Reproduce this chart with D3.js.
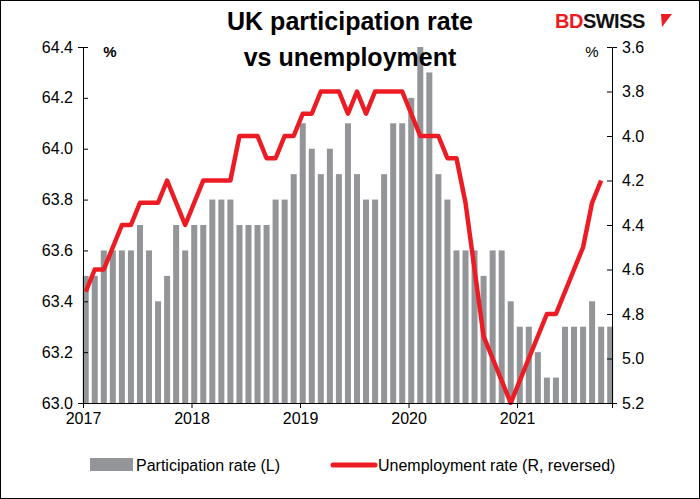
<!DOCTYPE html>
<html>
<head>
<meta charset="utf-8">
<script src="https://cdn.jsdelivr.net/npm/d3@7"></script>
<style>
  body { margin: 0; background: #fff; }
  text { font-family: Arial, "Liberation Sans", sans-serif; }
</style>
</head>
<body>
<svg id="chart" width="700" height="499"></svg>
<script>
// monthly, Jan 2017 - Nov 2021
var participation = [
  63.5, 63.5, 63.6, 63.6, 63.6, 63.6, 63.7, 63.6, 63.4, 63.5, 63.7, 63.6,
  63.7, 63.7, 63.8, 63.8, 63.8, 63.7, 63.7, 63.7, 63.7, 63.8, 63.8, 63.9,
  64.1, 64.0, 63.9, 64.0, 63.9, 64.1, 63.9, 63.8, 63.8, 63.9, 64.1, 64.1,
  64.2, 64.4, 64.3, 63.9, 63.8, 63.6, 63.6, 63.6, 63.5, 63.6, 63.6, 63.4,
  63.3, 63.3, 63.2, 63.1, 63.1, 63.3, 63.3, 63.3, 63.4, 63.3, 63.3
];
var unemployment = [
  4.7, 4.6, 4.6, 4.5, 4.4, 4.4, 4.3, 4.3, 4.3, 4.2, 4.3, 4.4,
  4.3, 4.2, 4.2, 4.2, 4.2, 4.0, 4.0, 4.0, 4.1, 4.1, 4.0, 4.0,
  3.9, 3.9, 3.8, 3.8, 3.8, 3.9, 3.8, 3.9, 3.8, 3.8, 3.8, 3.8,
  3.9, 4.0, 4.0, 4.0, 4.1, 4.1, 4.3, 4.6, 4.9, 5.0, 5.1, 5.2,
  5.1, 5.0, 4.9, 4.8, 4.8, 4.7, 4.6, 4.5, 4.3, 4.2
];
var yearLabels = ["2017", "2018", "2019", "2020", "2021"];
var leftTicks = [63.0, 63.2, 63.4, 63.6, 63.8, 64.0, 64.2, 64.4];
var rightTicks = [3.6, 3.8, 4.0, 4.2, 4.4, 4.6, 4.8, 5.0, 5.2];

var svg = d3.select("#chart");
var pLeft = 83, pRight = 612, pTop = 47, pBottom = 403;

var x = d3.scaleLinear().domain([0, 58.5]).range([pLeft, pRight]);
var yL = d3.scaleLinear().domain([63.0, 64.4]).range([pBottom, pTop]);
var yR = d3.scaleLinear().domain([5.2, 3.6]).range([pBottom, pTop]);

svg.append("rect").attr("x", 0.5).attr("y", 0.5).attr("width", 699).attr("height", 498)
  .attr("fill", "none").attr("stroke", "#000");

// bars
svg.selectAll(".bar").data(participation).enter().append("rect")
  .attr("class", "bar")
  .attr("x", function(d, i) { return x(i + 0.3) - 3; })
  .attr("width", 6)
  .attr("y", function(d) { return yL(d); })
  .attr("height", function(d) { return pBottom - yL(d); })
  .attr("fill", "#939598");

// line
var line = d3.line()
  .x(function(d, i) { return x(i + 0.3); })
  .y(function(d) { return yR(d); });
svg.append("path").datum(unemployment)
  .attr("d", line).attr("fill", "none")
  .attr("stroke", "#ed1c24").attr("stroke-width", 4.5)
  .attr("stroke-linejoin", "round");

// axes
var axL = svg.append("g").attr("transform", "translate(" + pLeft + ",0)")
  .call(d3.axisLeft(yL).tickValues(leftTicks).tickFormat(d3.format(".1f")).tickSizeOuter(0).tickSize(5));
var axR = svg.append("g").attr("transform", "translate(" + pRight + ",0)")
  .call(d3.axisRight(yR).tickValues(rightTicks).tickFormat(d3.format(".1f")).tickSizeOuter(0).tickSize(5));
var axB = svg.append("g").attr("transform", "translate(0," + pBottom + ")")
  .call(d3.axisBottom(x).tickValues([0, 12, 24, 36, 48])
    .tickFormat(function(d) { return yearLabels[d / 12]; }).tickSizeOuter(0).tickSize(5));
[axL, axR, axB].forEach(function(a) {
  a.selectAll("path, line").attr("stroke", "#000");
  a.selectAll("text").attr("font-size", 16).attr("fill", "#000")
    .style("font-family", "Arial, 'Liberation Sans', sans-serif");
});
axL.selectAll(".tick line").attr("x2", 5);
axR.selectAll(".tick line").attr("x2", -5);
axB.selectAll(".tick line").attr("y2", 5);
axL.selectAll("text").attr("x", -10);
axR.selectAll("text").attr("x", 10);
axB.selectAll("text").attr("y", 10);

// units
svg.append("text").attr("x", 110).attr("y", 57).attr("text-anchor", "middle")
  .attr("font-size", 15).attr("font-weight", "bold").text("%");
svg.append("text").attr("x", 592).attr("y", 57).attr("text-anchor", "middle")
  .attr("font-size", 15).text("%");

// title
svg.append("text").attr("x", 350).attr("y", 30).attr("text-anchor", "middle")
  .attr("font-size", 25).attr("font-weight", "bold").text("UK participation rate");
svg.append("text").attr("x", 350).attr("y", 66).attr("text-anchor", "middle")
  .attr("font-size", 25).attr("font-weight", "bold").text("vs unemployment");

// logo
var logo = svg.append("text").attr("x", 555).attr("y", 28).attr("font-size", 20)
  .attr("font-weight", "bold").attr("letter-spacing", -0.5);
logo.append("tspan").attr("fill", "#ed1c24").text("BD");
logo.append("tspan").attr("fill", "#111").text("SWISS");
svg.append("path").attr("d", "M661,14 L672,14 L662,27 Z").attr("fill", "#ed1c24");

// legend
svg.append("rect").attr("x", 90).attr("y", 458).attr("width", 43).attr("height", 13).attr("fill", "#939598");
svg.append("text").attr("x", 136).attr("y", 471).attr("font-size", 16).text("Participation rate (L)");
svg.append("line").attr("x1", 333).attr("x2", 375).attr("y1", 465).attr("y2", 465)
  .attr("stroke", "#ed1c24").attr("stroke-width", 5).attr("stroke-linecap", "round");
svg.append("text").attr("x", 378).attr("y", 471).attr("font-size", 16).text("Unemployment rate (R, reversed)");
</script>
</body>
</html>
